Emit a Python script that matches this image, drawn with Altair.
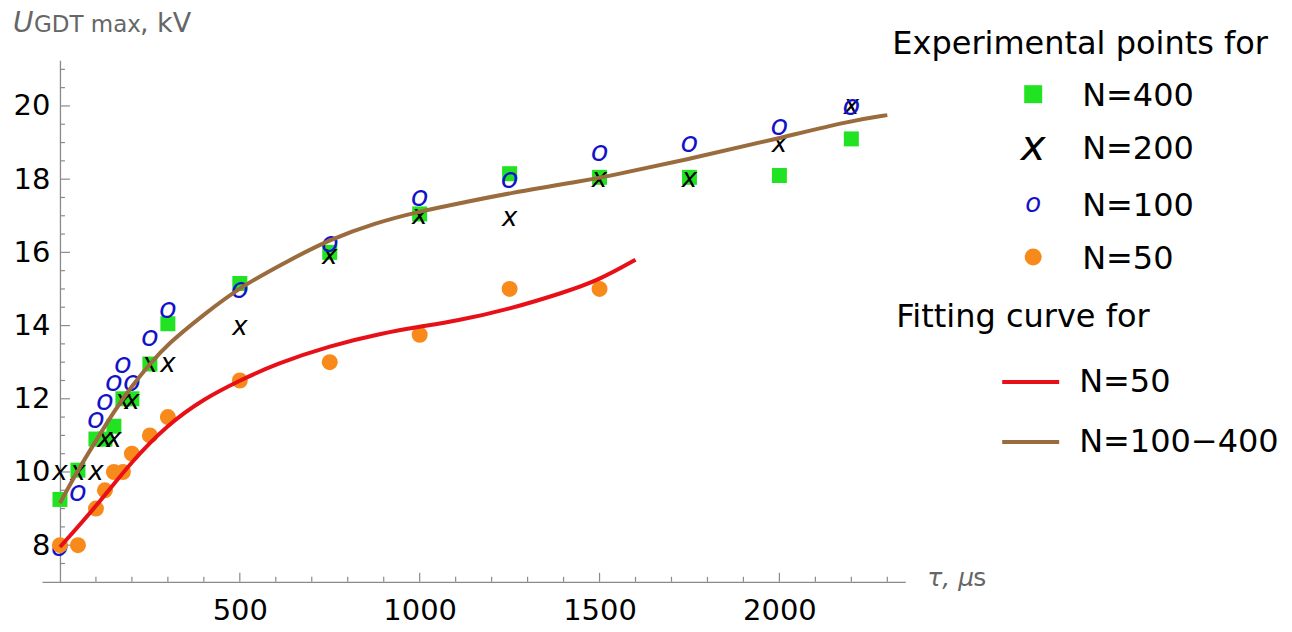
import altair as alt
import pandas as pd

# ---------------- data ----------------
tau_400 = [0, 50, 100, 125, 150, 175, 200, 250, 300, 500, 750, 1000, 1250, 1500, 1750, 2000, 2200]
u_400 = [9.25, 10.05, 10.9, 10.9, 11.25, 12.0, 12.0, 12.95, 14.05, 15.15, 16.0, 17.05, 18.15, 18.05, 18.05, 18.1, 19.1]

tau_200 = [0, 50, 100, 125, 150, 175, 200, 250, 300, 500, 750, 1000, 1250, 1500, 1750, 2000, 2200]
u_200 = [10.0, 10.0, 10.0, 10.9, 10.9, 11.95, 11.95, 12.95, 12.95, 13.95, 15.9, 17.0, 16.95, 18.0, 18.0, 18.95, 20.0]

tau_100 = [0, 50, 100, 125, 150, 175, 200, 250, 300, 500, 750, 1000, 1250, 1500, 1750, 2000, 2200]
u_100 = [7.95, 9.45, 11.45, 11.95, 12.45, 12.95, 12.45, 13.7, 14.45, 15.0, 16.25, 17.5, 18.0, 18.75, 19.0, 19.45, 20.0]

tau_50 = [0, 50, 100, 125, 150, 175, 200, 250, 300, 500, 750, 1000, 1250, 1500]
u_50 = [8.0, 8.0, 9.0, 9.5, 10.0, 10.0, 10.5, 11.0, 11.5, 12.5, 13.0, 13.75, 15.0, 15.0]

fit50_tau = [0, 100, 200, 300, 400, 500, 600, 750, 900, 1000, 1100, 1250, 1400, 1500, 1600]
fit50_u = [7.95, 9.05, 10.3, 11.3, 12.0, 12.5, 12.95, 13.45, 13.8, 13.97, 14.12, 14.45, 14.9, 15.25, 15.8]

fit100_tau = [0, 50, 100, 150, 200, 250, 300, 400, 500, 640, 750, 875, 1000, 1100, 1250, 1450, 1500, 1750, 2000, 2200, 2300]
fit100_u = [9.15, 10.05, 10.85, 11.65, 12.35, 12.95, 13.5, 14.3, 15.05, 15.8, 16.35, 16.8, 17.12, 17.32, 17.62, 17.95, 18.03, 18.55, 19.12, 19.6, 19.75]

x_label_values = [500, 1000, 1500, 2000]
y_label_values = [8, 10, 12, 14, 16, 18, 20]
x_major_ticks = [500, 1000, 1500, 2000]
x_minor_ticks = [100, 200, 300, 400, 600, 700, 800, 900, 1100, 1200, 1300, 1400,
                 1600, 1700, 1800, 1900, 2100, 2200, 2300]
y_major_ticks = [8, 10, 12, 14, 16, 18, 20]
y_minor_ticks = [7.5, 8.5, 9, 9.5, 10.5, 11, 11.5, 12.5, 13, 13.5, 14.5, 15, 15.5,
                 16.5, 17, 17.5, 18.5, 19, 19.5, 20.5, 21]

legend_points = ["N=400", "N=200", "N=100", "N=50"]
legend_curves = ["N=50", "N=100\u2212400"]

# ---------------- style ----------------
W, H = 864, 522
FONT = "DejaVu Sans"
GREEN = "#22e322"
BLUE = "#1212c8"
ORANGE = "#f88a1c"
RED = "#e81018"
BROWN = "#9a6b3c"
AXIS_GRAY = "#8a8a8a"
TITLE_GRAY = "#666666"
Y0PX = 18  # pixel position of tau = 0 inside the plot area

xs = alt.Scale(domain=[-50, 2350], nice=False, zero=False)
ys = alt.Scale(domain=[7.0, 21.25], nice=False, zero=False)

x_axis = alt.Axis(values=x_label_values, ticks=False, labelFontSize=29, labelFont=FONT,
                  labelColor="black", labelPadding=15, domainColor=AXIS_GRAY, domainWidth=1.3,
                  grid=False, format="d")
y_axis = alt.Axis(values=y_label_values, ticks=False, labelFontSize=29, labelFont=FONT,
                  labelColor="black", labelPadding=10, offset=-Y0PX, domainColor=AXIS_GRAY,
                  domainWidth=1.3, grid=False, format="d")

df400 = pd.DataFrame({"tau": tau_400, "u": u_400})
df200 = pd.DataFrame({"tau": tau_200, "u": u_200})
df100 = pd.DataFrame({"tau": tau_100, "u": u_100})
df50 = pd.DataFrame({"tau": tau_50, "u": u_50})
dfit50 = pd.DataFrame({"tau": fit50_tau, "u": fit50_u})
dfit100 = pd.DataFrame({"tau": fit100_tau, "u": fit100_u})


def enc_x(field="tau:Q"):
    return alt.X(field, scale=xs, title=None)


def enc_y(field="u:Q"):
    return alt.Y(field, scale=ys, title=None)


squares = alt.Chart(df400).mark_square(size=225, color=GREEN, opacity=1).encode(
    x=alt.X("tau:Q", scale=xs, title=None, axis=x_axis),
    y=alt.Y("u:Q", scale=ys, title=None, axis=y_axis))
crosses = alt.Chart(df200).mark_text(text="x", font=FONT, fontStyle="italic", fontSize=26,
                                     color="black", align="center", baseline="middle").encode(
    x=enc_x(), y=enc_y())
circles_o = alt.Chart(df100).mark_text(text="o", font=FONT, fontStyle="italic", fontSize=29,
                                       color=BLUE, align="center", baseline="middle").encode(
    x=enc_x(), y=enc_y())
dots = alt.Chart(df50).mark_circle(size=256, color=ORANGE, opacity=1).encode(x=enc_x(), y=enc_y())

line50 = alt.Chart(dfit50).mark_line(color=RED, strokeWidth=4, interpolate="basis").encode(
    x=enc_x(), y=enc_y())
line100 = alt.Chart(dfit100).mark_line(color=BROWN, strokeWidth=4, interpolate="basis").encode(
    x=enc_x(), y=enc_y())

# axis ticks pointing into the plot
xmaj = alt.Chart(pd.DataFrame({"tau": x_major_ticks})).mark_rule(color=AXIS_GRAY, strokeWidth=1.2).encode(
    x=enc_x(), y=alt.value(H), y2=alt.value(H - 9))
xmin = alt.Chart(pd.DataFrame({"tau": x_minor_ticks})).mark_rule(color=AXIS_GRAY, strokeWidth=1.2).encode(
    x=enc_x(), y=alt.value(H), y2=alt.value(H - 5))
ymaj = alt.Chart(pd.DataFrame({"u": y_major_ticks})).mark_rule(color=AXIS_GRAY, strokeWidth=1.2).encode(
    y=enc_y(), x=alt.value(Y0PX), x2=alt.value(Y0PX + 10))
ymin = alt.Chart(pd.DataFrame({"u": y_minor_ticks})).mark_rule(color=AXIS_GRAY, strokeWidth=1.2).encode(
    y=enc_y(), x=alt.value(Y0PX), x2=alt.value(Y0PX + 5))


def txt(s, x, y, size, style="normal", color="black", align="left", baseline="alphabetic"):
    return alt.Chart(pd.DataFrame({"t": [s]})).mark_text(
        font=FONT, fontSize=size, fontStyle=style, color=color, align=align, baseline=baseline
    ).encode(text="t:N", x=alt.value(x), y=alt.value(y))


# axis titles
ytitle = [
    txt("U", -29, -28, 28, style="italic", color=TITLE_GRAY),
    txt("GDT max", -8, -28, 23, color=TITLE_GRAY),
    txt(", kV", 98, -28, 27, color=TITLE_GRAY),
]
xtitle = [
    txt("\u03c4, \u03bc", 886, 526, 25, style="italic", color=TITLE_GRAY),
    txt("s", 932, 526, 25, color=TITLE_GRAY),
]

# legend
one = pd.DataFrame({"a": [0]})
LX = 992
legend = [
    txt("Experimental points for", 851, -6, 32),
    alt.Chart(one).mark_square(size=324, color=GREEN, opacity=1).encode(x=alt.value(LX), y=alt.value(34)),
    txt("x", LX, 87, 42, style="italic", align="center", baseline="middle"),
    txt("o", LX, 144, 26, style="italic", color=BLUE, align="center", baseline="middle"),
    alt.Chart(one).mark_circle(size=289, color=ORANGE, opacity=1).encode(x=alt.value(LX), y=alt.value(197)),
    txt(legend_points[0], 1041, 46, 32),
    txt(legend_points[1], 1041, 99, 32),
    txt(legend_points[2], 1041, 156, 32),
    txt(legend_points[3], 1041, 209, 32),
    txt("Fitting curve for", 855, 267, 32),
    alt.Chart(one).mark_rule(color=RED, strokeWidth=4).encode(x=alt.value(961), x2=alt.value(1018), y=alt.value(322)),
    alt.Chart(one).mark_rule(color=BROWN, strokeWidth=4).encode(x=alt.value(961), x2=alt.value(1018), y=alt.value(382)),
    txt(legend_curves[0], 1038, 332, 32),
    txt(legend_curves[1], 1038, 392, 32),
]

chart = alt.layer(
    squares, xmaj, xmin, ymaj, ymin, crosses, circles_o, dots, line50, line100,
    *ytitle, *xtitle, *legend
).properties(
    width=W, height=H,
    padding={"left": 5, "top": 2, "right": 5, "bottom": 0},
    background="white",
).configure_view(stroke=None)

chart.save("out.html", embed_options={"renderer": "svg", "actions": False})
